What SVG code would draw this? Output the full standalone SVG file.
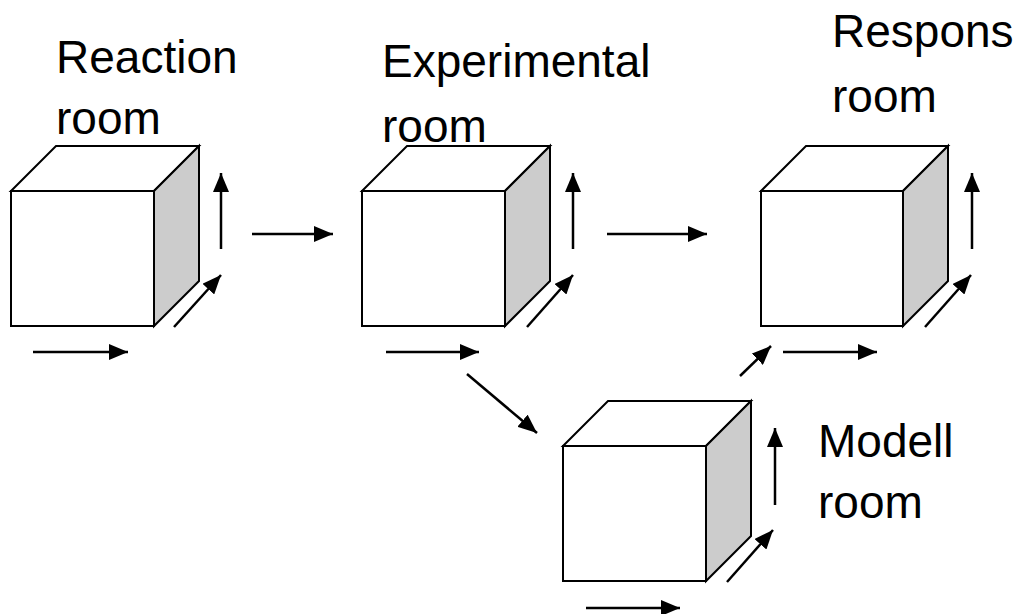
<svg xmlns="http://www.w3.org/2000/svg" width="1023" height="614" viewBox="0 0 1023 614">
<style>
.face{fill:#ffffff;stroke:#000000;stroke-width:2;stroke-linejoin:miter}
.side{fill:#cccccc;stroke:#000000;stroke-width:2}
.arr{stroke:#000000;stroke-width:2.5;fill:none;marker-end:url(#ah)}
.lbl{font-family:"Liberation Sans",Arial,sans-serif;font-size:46px;fill:#000000}
</style>
<defs>
<marker id="ah" markerUnits="userSpaceOnUse" markerWidth="19" markerHeight="16" refX="19" refY="8" orient="auto">
<path d="M0,0 L19,8 L0,16 z" fill="#000000"/>
</marker>
</defs>
<rect width="1023" height="614" fill="#ffffff"/>

<g id="reaction-room">
<polygon class="face" points="11,191 56,146 199,146 154,191"/>
<polygon class="side" points="154,191 199,146 199,281 154,326"/>
<rect class="face" x="11" y="191" width="143" height="135"/>
<line class="arr" x1="221" y1="249" x2="221" y2="173"/>
<line class="arr" x1="174" y1="327" x2="221" y2="275"/>
<line class="arr" x1="33" y1="352" x2="128" y2="352"/>
<text class="lbl" x="56" y="73">Reaction</text>
<text class="lbl" x="56" y="134">room</text>
</g>

<g id="experimental-room">
<polygon class="face" points="362,191 407,146 550,146 505,191"/>
<polygon class="side" points="505,191 550,146 550,281 505,326"/>
<rect class="face" x="362" y="191" width="143" height="135"/>
<line class="arr" x1="573" y1="249" x2="573" y2="173"/>
<line class="arr" x1="527" y1="327" x2="573" y2="275"/>
<line class="arr" x1="386" y1="352" x2="479" y2="352"/>
<text class="lbl" x="382" y="77">Experimental</text>
<text class="lbl" x="382" y="142">room</text>
</g>

<g id="respons-room">
<polygon class="face" points="761,191 806,146 948,146 903,191"/>
<polygon class="side" points="903,191 948,146 948,281 903,326"/>
<rect class="face" x="761" y="191" width="142" height="135"/>
<line class="arr" x1="972" y1="249" x2="972" y2="173"/>
<line class="arr" x1="925" y1="327" x2="971" y2="275"/>
<line class="arr" x1="783" y1="352" x2="877" y2="352"/>
<text class="lbl" x="832" y="47">Respons</text>
<text class="lbl" x="832" y="112">room</text>
</g>

<g id="modell-room">
<polygon class="face" points="563,446 608,401 751,401 706,446"/>
<polygon class="side" points="706,446 751,401 751,536 706,581"/>
<rect class="face" x="563" y="446" width="143" height="135"/>
<line class="arr" x1="775" y1="505" x2="775" y2="428"/>
<line class="arr" x1="727" y1="582" x2="773" y2="530"/>
<line class="arr" x1="586" y1="608" x2="680" y2="608"/>
<text class="lbl" x="818" y="457">Modell</text>
<text class="lbl" x="818" y="518">room</text>
</g>

<g id="connectors">
<line class="arr" x1="252" y1="234" x2="333" y2="234"/>
<line class="arr" x1="607" y1="234" x2="707" y2="234"/>
<line class="arr" x1="467" y1="374" x2="537" y2="433"/>
<line class="arr" x1="740" y1="376" x2="771" y2="346"/>
</g>
</svg>
